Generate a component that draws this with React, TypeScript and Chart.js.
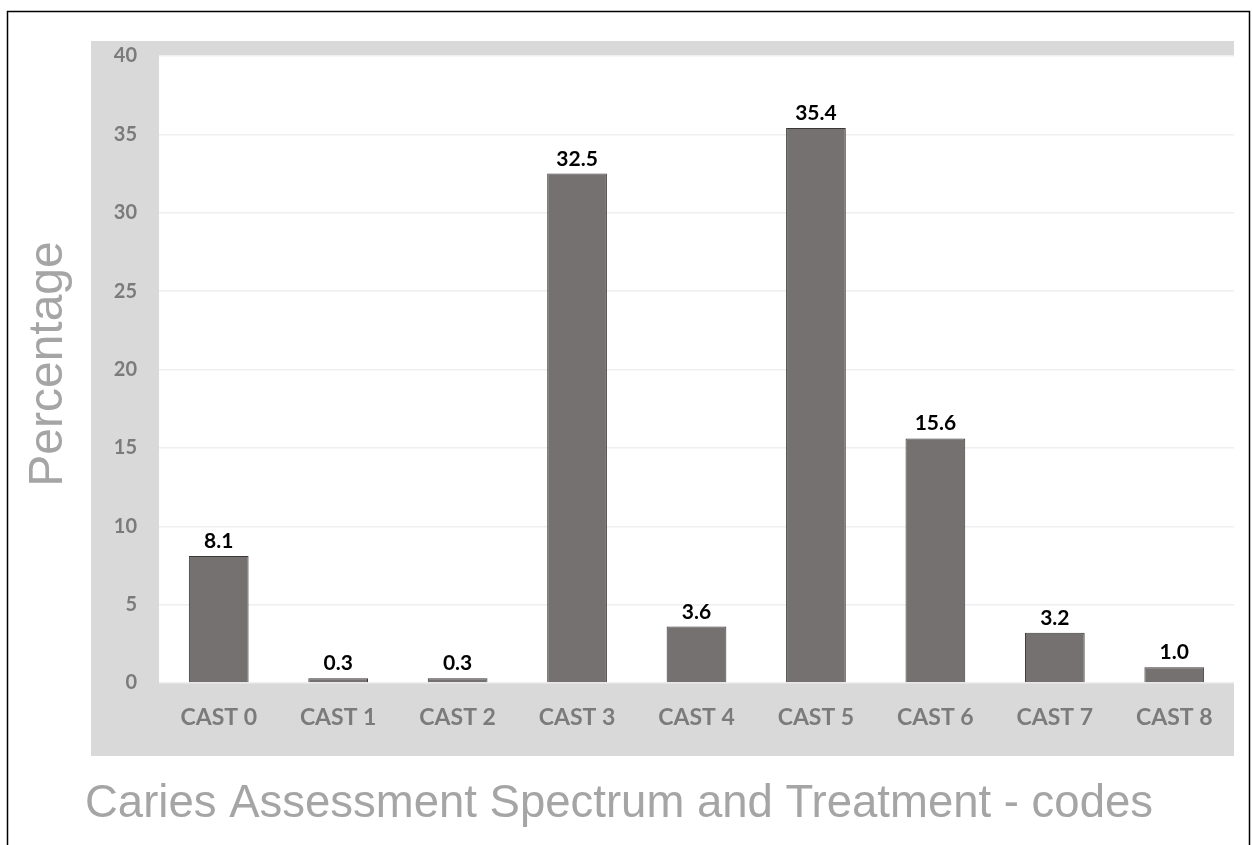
import React, { useEffect, useRef } from "react";
import { Chart, registerables } from "chart.js";

Chart.register(...registerables);

const categories = ["CAST 0", "CAST 1", "CAST 2", "CAST 3", "CAST 4", "CAST 5", "CAST 6", "CAST 7", "CAST 8"];
const percentages = [8.1, 0.3, 0.3, 32.5, 3.6, 35.4, 15.6, 3.2, 1.0];
const yTitle = "Percentage";
const xTitle = "Caries Assessment Spectrum and Treatment - codes";

const W = 1252;
const H = 845;
const PANEL = { left: 91, top: 41, right: 1234, bottom: 756 };

const decorPlugin = {
  id: "decor",
  beforeDraw(chart: any) {
    const { ctx, chartArea } = chart;
    ctx.save();
    ctx.fillStyle = "#ffffff";
    ctx.fillRect(0, 0, W, H);
    ctx.fillStyle = "#d9d9d9";
    ctx.fillRect(PANEL.left, PANEL.top, PANEL.right - PANEL.left, PANEL.bottom - PANEL.top);
    ctx.fillStyle = "#ffffff";
    ctx.fillRect(chartArea.left, chartArea.top, chartArea.right - chartArea.left, chartArea.bottom - chartArea.top);
    ctx.strokeStyle = "#000000";
    ctx.lineWidth = 1.5;
    ctx.beginPath();
    ctx.moveTo(7.5, H + 2);
    ctx.lineTo(7.5, 11.5);
    ctx.lineTo(1249.5, 11.5);
    ctx.lineTo(1249.5, H + 2);
    ctx.stroke();
    ctx.restore();
  },
  afterDraw(chart: any) {
    const { ctx } = chart;
    ctx.save();
    ctx.fillStyle = "#a5a5a5";
    ctx.font = "48px 'Liberation Sans', Arial, sans-serif";
    ctx.textAlign = "center";
    ctx.textBaseline = "middle";
    ctx.translate(49, 364);
    ctx.rotate(-Math.PI / 2);
    ctx.fillText(yTitle, 0, 0);
    ctx.restore();
    ctx.save();
    ctx.fillStyle = "#a5a5a5";
    ctx.font = "45.5px 'Liberation Sans', Arial, sans-serif";
    ctx.textAlign = "center";
    ctx.textBaseline = "middle";
    ctx.fillText(xTitle, 619, 804);
    ctx.restore();
  },
  afterDatasetsDraw(chart: any) {
    const { ctx } = chart;
    const meta = chart.getDatasetMeta(0);
    ctx.save();
    ctx.fillStyle = "#000000";
    ctx.font = "bold 21px Lato, 'Open Sans', sans-serif";
    ctx.textAlign = "center";
    ctx.textBaseline = "alphabetic";
    meta.data.forEach((bar: any, i: number) => {
      ctx.fillText(percentages[i].toFixed(1), bar.x, bar.y - 8);
    });
    ctx.restore();
  },
};

export default function App() {
  const ref = useRef<HTMLCanvasElement | null>(null);
  useEffect(() => {
    if (!ref.current) return;
    const chart = new Chart(ref.current, {
      type: "bar",
      data: {
        labels: categories,
        datasets: [
          {
            data: percentages,
            backgroundColor: "#767171",
            borderColor: "#3b3838",
            borderWidth: 1,
            categoryPercentage: 1,
            barPercentage: 0.5,
          },
        ],
      },
      options: {
        responsive: false,
        animation: false,
        devicePixelRatio: 1,
        layout: { padding: { left: PANEL.left, right: W - PANEL.right, top: 56, bottom: H - PANEL.bottom } },
        plugins: { legend: { display: false }, tooltip: { enabled: false } },
        scales: {
          x: {
            grid: { display: false, drawTicks: false },
            border: { display: false },
            ticks: {
              color: "#7b7b7b",
              font: { family: "Lato, 'Open Sans', sans-serif", size: 23, weight: "bold" },
              padding: 21,
              maxRotation: 0,
            },
            afterFit(scale: any) {
              scale.height = PANEL.bottom - 683;
            },
          },
          y: {
            min: 0,
            max: 40,
            grid: { color: "#efefef", drawTicks: false, lineWidth: 1.5 },
            border: { display: false },
            ticks: {
              stepSize: 5,
              color: "#7b7b7b",
              font: { family: "Lato, 'Open Sans', sans-serif", size: 20, weight: "bold" },
              padding: 22,
            },
            afterFit(scale: any) {
              scale.width = 159 - PANEL.left;
            },
          },
        },
      },
      plugins: [decorPlugin],
    });
    return () => chart.destroy();
  }, []);
  return (
    <div style={{ position: "fixed", left: 0, top: 0, width: W, height: H }}>
      <canvas ref={ref} width={W} height={H} style={{ width: W, height: H, display: "block" }} />
    </div>
  );
}
